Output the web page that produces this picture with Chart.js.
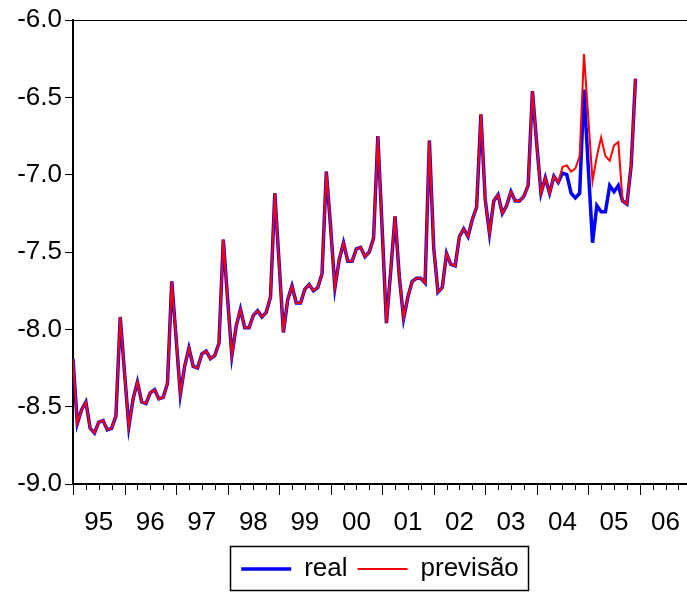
<!DOCTYPE html>
<html>
<head>
<meta charset="utf-8">
<script src="https://cdn.jsdelivr.net/npm/chart.js@4/dist/chart.umd.min.js"></script>
<style>
  html, body { margin: 0; padding: 0; background: #fff; }
  canvas { display: block; }
</style>
</head>
<body>
<canvas id="c" width="687" height="592"></canvas>
<script>
// Monthly observations, Jan 1995 .. Dec 2005
const real = [
  -8.19, -8.61, -8.52, -8.47, -8.64, -8.67, -8.60, -8.59, -8.65, -8.64, -8.56, -7.92,
  -8.28, -8.63, -8.45, -8.34, -8.47, -8.48, -8.41, -8.39, -8.45, -8.44, -8.35, -7.69,
  -8.05, -8.42, -8.24, -8.12, -8.24, -8.25, -8.16, -8.14, -8.19, -8.17, -8.09, -7.42,
  -7.80, -8.17, -7.98, -7.87, -7.99, -7.99, -7.91, -7.88, -7.92, -7.89, -7.79, -7.12,
  -7.57, -8.02, -7.81, -7.72, -7.83, -7.83, -7.74, -7.71, -7.75, -7.73, -7.64, -6.98,
  -7.34, -7.73, -7.55, -7.44, -7.56, -7.56, -7.48, -7.47, -7.53, -7.50, -7.41, -6.75,
  -7.35, -7.96, -7.62, -7.27, -7.66, -7.93, -7.79, -7.69, -7.67, -7.67, -7.70, -6.78,
  -7.47, -7.76, -7.73, -7.51, -7.58, -7.59, -7.40, -7.35, -7.40, -7.29, -7.21, -6.61,
  -7.16, -7.38, -7.17, -7.13, -7.25, -7.20, -7.11, -7.17, -7.17, -7.14, -7.07, -6.46,
  -6.80, -7.12, -7.02, -7.12, -7.01, -7.05, -6.99, -7.00, -7.12, -7.15, -7.12, -6.45,
  -6.95, -7.44, -7.20, -7.24, -7.24, -7.07, -7.11, -7.07, -7.17, -7.19, -6.94, -6.38
];
const previsao = [
  -8.19, -8.61, -8.52, -8.47, -8.64, -8.67, -8.60, -8.59, -8.65, -8.64, -8.56, -7.92,
  -8.28, -8.63, -8.45, -8.34, -8.47, -8.48, -8.41, -8.39, -8.45, -8.44, -8.35, -7.69,
  -8.05, -8.42, -8.24, -8.12, -8.24, -8.25, -8.16, -8.14, -8.19, -8.17, -8.09, -7.42,
  -7.80, -8.17, -7.98, -7.87, -7.99, -7.99, -7.91, -7.88, -7.92, -7.89, -7.79, -7.12,
  -7.57, -8.02, -7.81, -7.72, -7.83, -7.83, -7.74, -7.71, -7.75, -7.73, -7.64, -6.98,
  -7.34, -7.73, -7.55, -7.44, -7.56, -7.56, -7.48, -7.47, -7.53, -7.50, -7.41, -6.75,
  -7.35, -7.96, -7.62, -7.27, -7.66, -7.93, -7.79, -7.69, -7.67, -7.67, -7.70, -6.78,
  -7.47, -7.76, -7.73, -7.51, -7.58, -7.59, -7.40, -7.35, -7.40, -7.29, -7.21, -6.61,
  -7.16, -7.38, -7.17, -7.13, -7.25, -7.20, -7.11, -7.17, -7.17, -7.14, -7.07, -6.46,
  -6.80, -7.12, -7.02, -7.12, -7.01, -7.05, -6.95, -6.94, -6.98, -6.96, -6.88, -6.22,
  -6.63, -7.04, -6.88, -6.76, -6.88, -6.91, -6.81, -6.79, -7.17, -7.19, -6.94, -6.38
];
const yearLabels = ['95','96','97','98','99','00','01','02','03','04','05','06'];
const yTicks = [-9.0, -8.5, -8.0, -7.5, -7.0, -6.5, -6.0];

const FONT = "'Liberation Sans', Arial, sans-serif";

const toPoints = arr => arr.map((v, i) => ({ x: i, y: v }));

// centre the legend under the plot area rather than the whole canvas
const legendShift = {
  id: 'legendShift',
  afterLayout(chart) {
    const lg = chart.legend;
    if (!lg) return;
    const area = chart.chartArea;
    const dx = (area.left + area.right) / 2 - (lg.left + lg.right) / 2;
    lg.left += dx;
    lg.right += dx;
    if (typeof lg.adjustHitBoxes === 'function') lg.adjustHitBoxes();
  }
};

const axisDecor = {
  id: 'axisDecor',
  afterDraw(chart) {
    const ctx = chart.ctx;
    const xs = chart.scales.x;
    const area = chart.chartArea;
    ctx.save();
    ctx.strokeStyle = '#000';
    // top frame line
    ctx.lineWidth = 1;
    ctx.beginPath();
    ctx.moveTo(area.left, area.top + 0.5);
    ctx.lineTo(area.right, area.top + 0.5);
    ctx.stroke();
    // x tick marks: majors at year boundaries, minors each quarter
    ctx.lineWidth = 1;
    for (let m = 0; m <= 12 * yearLabels.length; m += 3) {
      if (m > xs.max) break;
      const px = Math.round(xs.getPixelForValue(m)) + 0.5;
      const len = (m % 12 === 0) ? 11 : 6;
      ctx.beginPath();
      ctx.moveTo(px, area.bottom);
      ctx.lineTo(px, area.bottom + len);
      ctx.stroke();
    }
    // legend frame
    const boxes = chart.legend && chart.legend.legendHitBoxes;
    if (boxes && boxes.length) {
      let l = Infinity, r = -Infinity;
      boxes.forEach(b => { l = Math.min(l, b.left); r = Math.max(r, b.left + b.width); });
      const top = chart.legend.top;
      const bottom = chart.legend.bottom;
      ctx.lineWidth = 1.5;
      ctx.strokeRect(Math.round(l - 11) + 0.5, top + 0.5, Math.round(r - l + 20), bottom - top - 2);
    }
    ctx.restore();
  }
};

new Chart(document.getElementById('c'), {
  type: 'line',
  data: {
    datasets: [
      {
        label: 'previsão',
        data: toPoints(previsao),
        borderColor: '#ff0000',
        backgroundColor: '#ff0000',
        borderWidth: 2,
        pointRadius: 0,
        tension: 0,
        fill: false
      },
      {
        label: 'real',
        data: toPoints(real),
        borderColor: '#0000ff',
        backgroundColor: '#0000ff',
        borderWidth: 3.5,
        pointRadius: 0,
        tension: 0,
        fill: false
      }
    ]
  },
  options: {
    responsive: false,
    animation: false,
    events: [],
    layout: { padding: { top: 20, left: 0, right: 0, bottom: 0 } },
    plugins: {
      tooltip: { enabled: false },
      legend: {
        display: true,
        position: 'bottom',
        reverse: true,
        labels: {
          usePointStyle: true,
          pointStyle: 'line',
          pointStyleWidth: 50,
          padding: 10,
          color: '#000',
          font: { family: FONT, size: 26 }
        }
      }
    },
    scales: {
      x: {
        type: 'linear',
        min: 0,
        max: 143,
        grid: { display: false, drawTicks: false },
        border: { display: true, color: '#000', width: 2 },
        afterBuildTicks: s => { s.ticks = yearLabels.map((_, k) => ({ value: 12 * k + 6 })); },
        afterFit: s => { s.height = 62; s.paddingLeft = 0; s.paddingRight = 0; },
        ticks: {
          autoSkip: false,
          maxRotation: 0,
          minRotation: 0,
          padding: 23,
          color: '#000',
          font: { family: FONT, size: 26 },
          callback: (v, idx) => yearLabels[idx]
        }
      },
      y: {
        type: 'linear',
        min: -9,
        max: -6,
        afterBuildTicks: s => { s.ticks = yTicks.map(v => ({ value: v })); },
        afterFit: s => { s.width = 73; },
        grid: { display: true, drawOnChartArea: false, drawTicks: true, tickLength: 8, color: '#000', lineWidth: 1 },
        border: { display: true, color: '#000', width: 2 },
        ticks: {
          padding: 3,
          color: '#000',
          font: { family: FONT, size: 26 },
          callback: v => Number(v).toFixed(1)
        }
      }
    }
  },
  plugins: [legendShift, axisDecor]
});
</script>
</body>
</html>
